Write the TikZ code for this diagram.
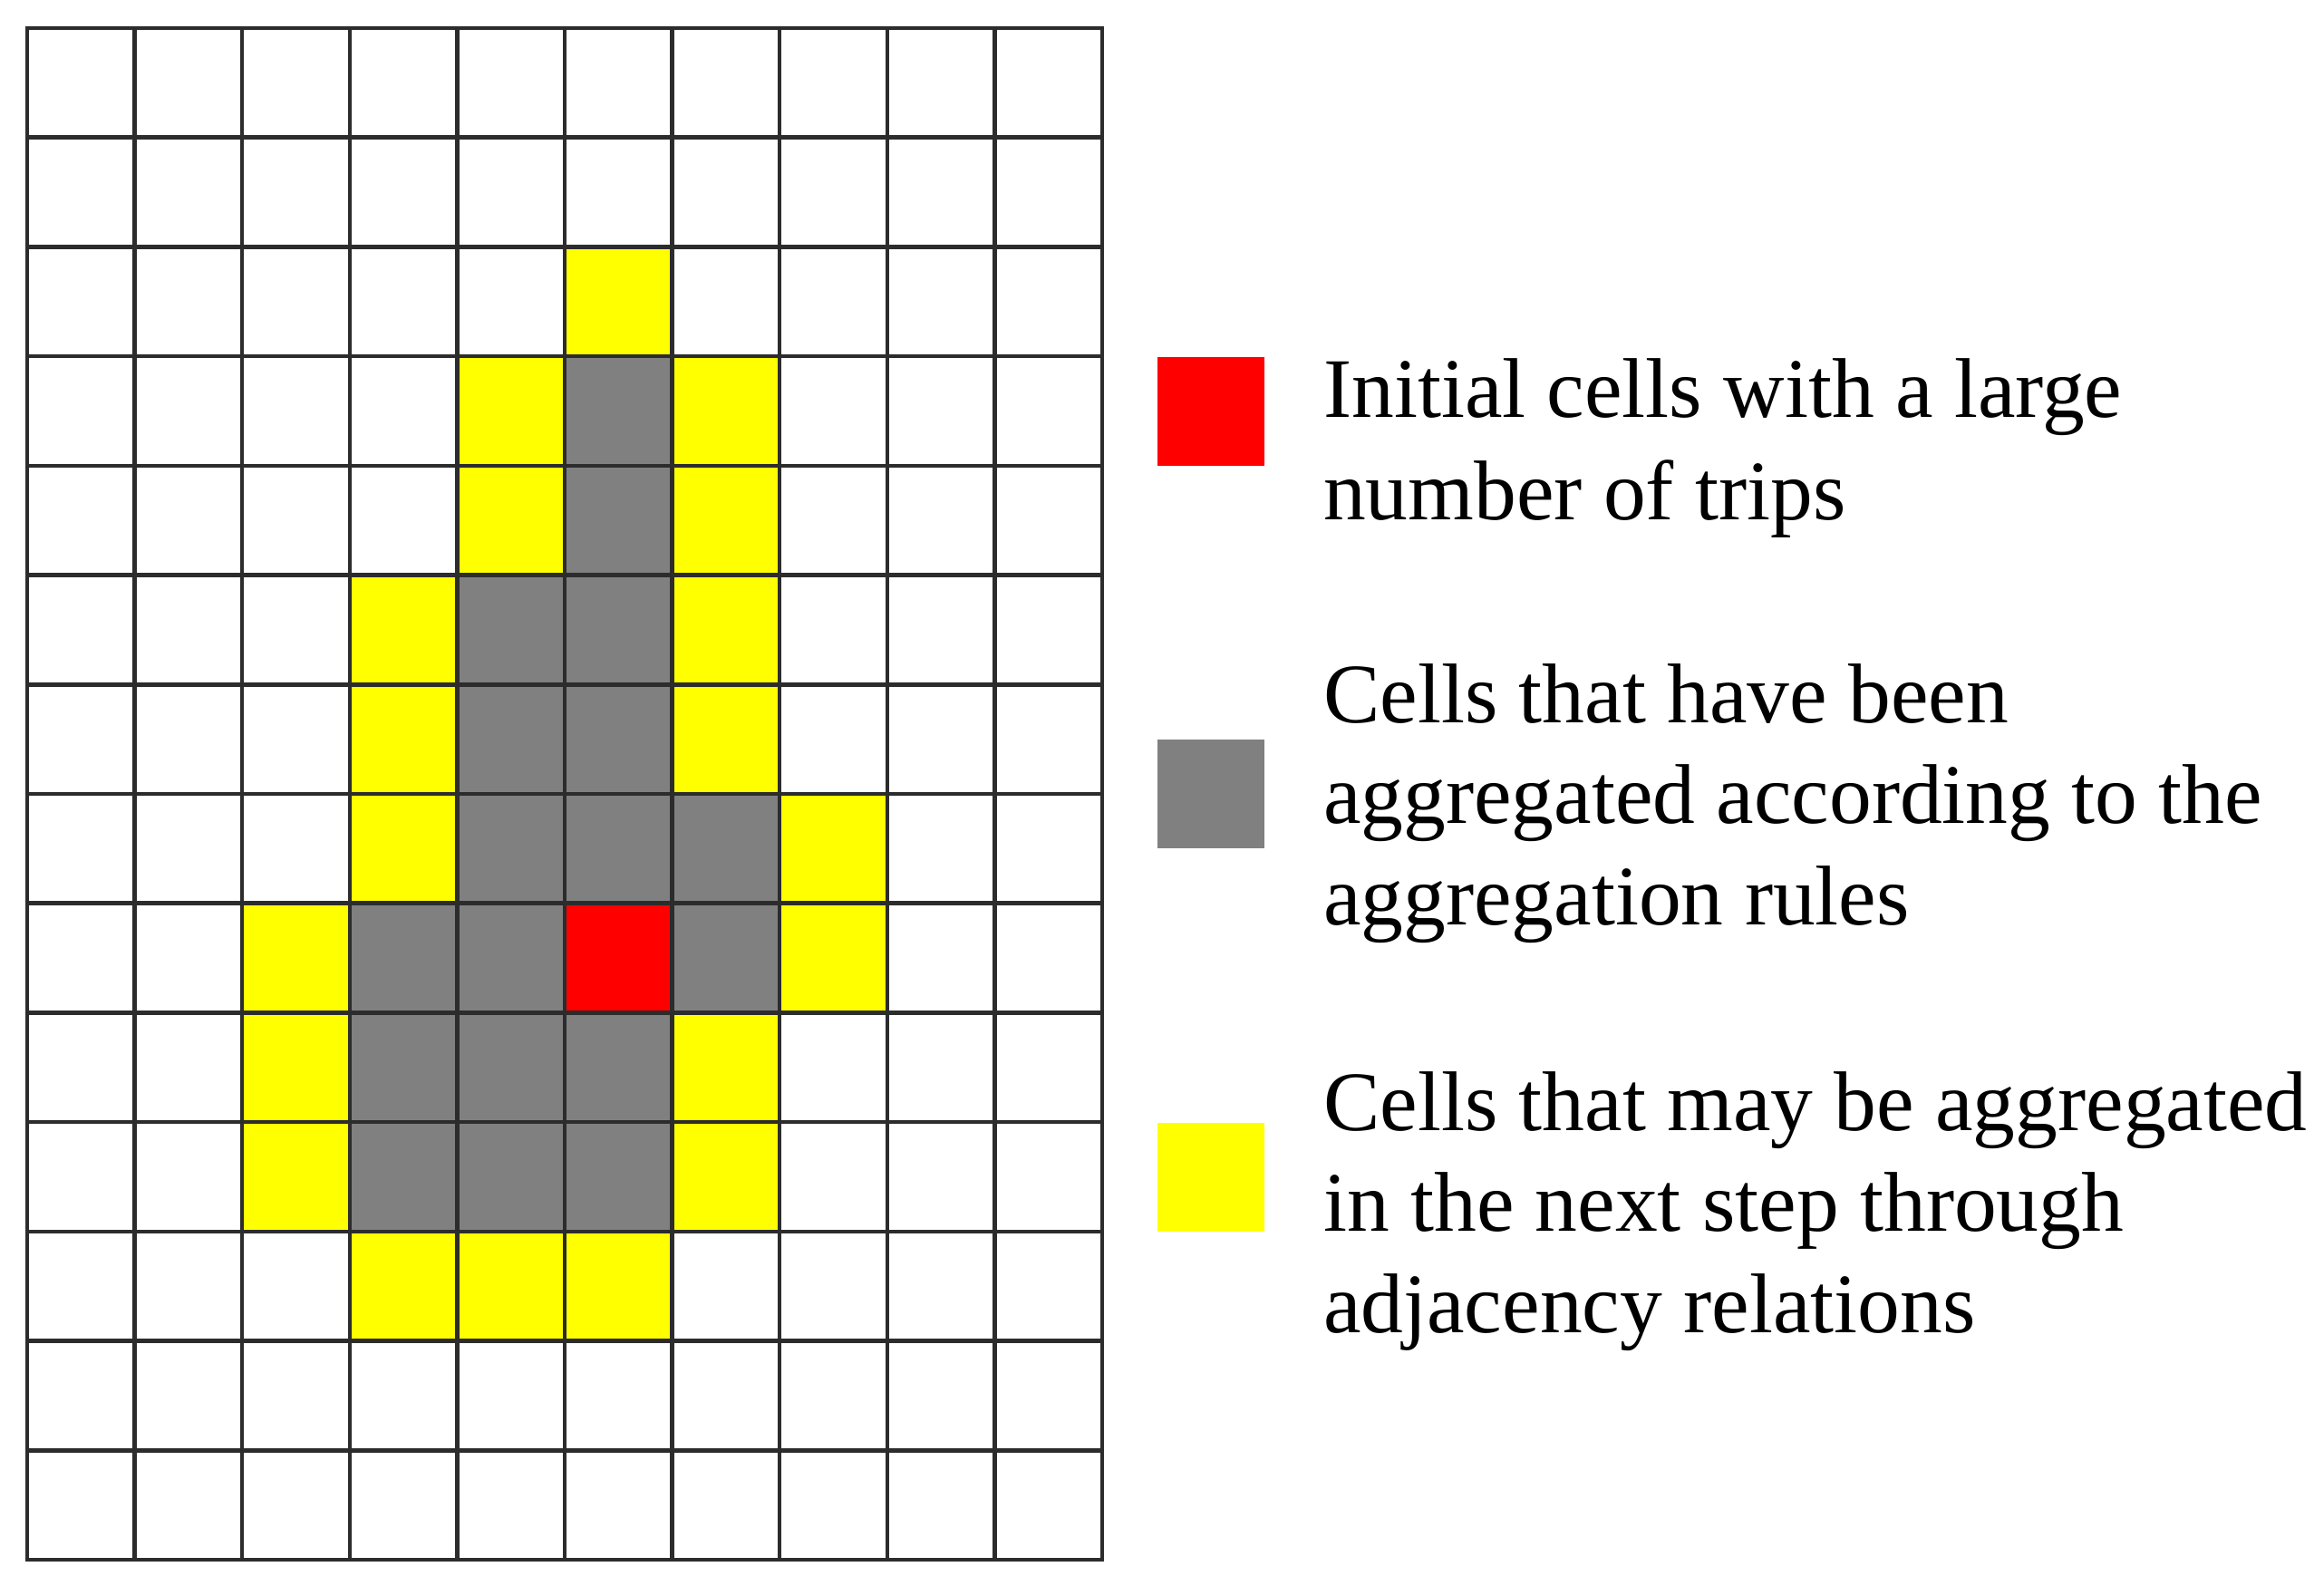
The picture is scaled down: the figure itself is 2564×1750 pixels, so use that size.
\documentclass[tikz,border=0pt]{standalone}
\usepackage{fontspec}
\setmainfont{Liberation Serif}
\definecolor{gridcol}{HTML}{2C2C2C}
\definecolor{aggr}{HTML}{808080}
\definecolor{cand}{HTML}{FFFF00}
\definecolor{init}{HTML}{FF0000}
\begin{document}
\begin{tikzpicture}[x=1pt,y=-1pt,
  gridline/.style={draw=gridcol,line width=4.5pt,line cap=rect},
  legbox/.style={inner sep=0pt,minimum width=118pt,minimum height=120pt,draw=none},
  legtext/.style={anchor=base west,inner sep=0pt,font=\fontsize{93.5}{113}\selectfont}]
\useasboundingbox (0,0) rectangle (2564,1750);
\fill[white] (0,0) rectangle (2564,1750);
% yellow cells
\foreach \c/\r in {5/2,4/3,6/3,4/4,6/4,3/5,6/5,3/6,6/6,3/7,7/7,2/8,7/8,2/9,6/9,2/10,6/10,3/11,4/11,5/11}
  \fill[cand] ({30+\c*118.6},{31+\r*120.714}) rectangle ++(118.6,120.714);
% gray cells
\foreach \c/\r in {5/3,5/4,4/5,5/5,4/6,5/6,4/7,5/7,6/7,3/8,4/8,6/8,3/9,4/9,5/9,3/10,4/10,5/10}
  \fill[aggr] ({30+\c*118.6},{31+\r*120.714}) rectangle ++(118.6,120.714);
% red cell
\fill[init] ({30+5*118.6},{31+8*120.714}) rectangle ++(118.6,120.714);
% grid lines
\foreach \i in {0,...,10}
  \draw[gridline] ({30+\i*118.6},31) -- ({30+\i*118.6},1721);
\foreach \j in {0,...,14}
  \draw[gridline] (30,{31+\j*120.714}) -- (1216,{31+\j*120.714});
% legend
\node[legbox,fill=init] (lr) at (1336,453.5) {};
\node[legbox,fill=aggr] (lg) at (1336,876) {};
\node[legbox,fill=cand] (ly) at (1336,1299) {};
\node[legtext] (t1a) at (1460,460) {Initial cells with a large};
\node[legtext] (t1b) at (1460,573) {number of trips};
\node[legtext] (t2a) at (1460,797) {Cells that have been};
\node[legtext] (t2b) at (1460,908) {aggregated according to the};
\node[legtext] (t2c) at (1460,1020) {aggregation rules};
\node[legtext] (t3a) at (1460,1247) {Cells that may be aggregated};
\node[legtext] (t3b) at (1460,1358) {in the next step through};
\node[legtext] (t3c) at (1460,1470) {adjacency relations};
\end{tikzpicture}
\end{document}
